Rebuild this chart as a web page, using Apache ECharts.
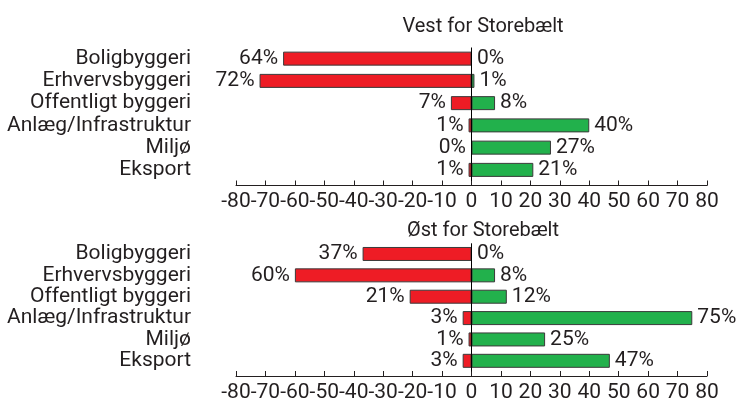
<!DOCTYPE html>
<html>
<head>
<meta charset="utf-8">
<script src="https://cdn.jsdelivr.net/npm/echarts@6/dist/echarts.min.js"></script>
<style>
  html, body { margin: 0; padding: 0; background: #fff; }
  #main { width: 738px; height: 403px; }
</style>
</head>
<body>
<div id="main"></div>
<script>
// categories, top to bottom
var categories = ['Boligbyggeri', 'Erhvervsbyggeri', 'Offentligt byggeri', 'Anlæg/Infrastruktur', 'Miljø', 'Eksport'];

// Vest for Storebælt: share negative (red) / positive (green), in %
var vestNeg = [64, 72, 7, 1, 0, 1];
var vestPos = [0, 1, 8, 40, 27, 21];

// Øst for Storebælt
var oestNeg = [37, 60, 21, 3, 1, 3];
var oestPos = [0, 8, 12, 75, 25, 47];

var panelTitles = ['Vest for Storebælt', 'Øst for Storebælt'];
var axisMin = -80, axisMax = 80, axisStep = 10;

var FONT = 'Roboto';
var TXT = '#231F20';
var RED = '#EE1C25';
var GREEN = '#22B14C';
var EDGE = '#3a3a3a';

var chart = echarts.init(document.getElementById('main'));

var gridTops = [47.5, 243.3];
var titleTops = [12, 216];

function pctLabel(p) {
    return Math.abs(p.value) + '%';
}

var grids = [], xAxes = [], yAxes = [], series = [], titles = [];
var negs = [vestNeg, oestNeg], poss = [vestPos, oestPos];

for (var i = 0; i < 2; i++) {
    titles.push({
        text: panelTitles[i],
        left: 478,
        top: titleTops[i],
        textAlign: 'center',
        textStyle: { fontFamily: FONT, fontSize: 20, fontWeight: 'normal', color: TXT }
    });
    grids.push({ left: 236, right: 31, top: gridTops[i], height: 133.5 });
    xAxes.push({
        type: 'value',
        gridIndex: i,
        min: axisMin,
        max: axisMax,
        interval: axisStep,
        offset: 4.5,
        axisLine: { show: true, onZero: false, lineStyle: { color: '#231F20', width: 1 } },
        axisTick: { show: true, inside: true, length: 5, lineStyle: { color: '#231F20' } },
        splitLine: { show: false },
        axisLabel: { fontFamily: FONT, fontSize: 21, color: TXT, margin: 6 }
    });
    yAxes.push({
        type: 'category',
        gridIndex: i,
        inverse: true,
        data: categories,
        axisLine: { show: false },
        axisTick: { show: false },
        axisLabel: { interval: 0, fontFamily: FONT, fontSize: 21, color: TXT, margin: 45 }
    });
    series.push({
        type: 'bar',
        xAxisIndex: i,
        yAxisIndex: i,
        barWidth: 14,
        barGap: '-100%',
        data: negs[i].map(function (v) { return -v; }),
        itemStyle: { color: RED, borderColor: EDGE, borderWidth: 1 },
        label: { show: true, position: 'left', distance: 5, formatter: pctLabel,
                 fontFamily: FONT, fontSize: 21, color: TXT },
        silent: true
    });
    series.push({
        type: 'bar',
        xAxisIndex: i,
        yAxisIndex: i,
        barWidth: 14,
        barGap: '-100%',
        data: poss[i],
        itemStyle: { color: GREEN, borderColor: EDGE, borderWidth: 1 },
        label: { show: true, position: 'right', distance: 5, formatter: pctLabel,
                 fontFamily: FONT, fontSize: 21, color: TXT },
        markLine: {
            silent: true,
            symbol: 'none',
            label: { show: false },
            lineStyle: { color: '#000', width: 1, type: 'solid' },
            data: [{ xAxis: 0 }]
        },
        silent: true
    });
}

chart.setOption({
    animation: false,
    backgroundColor: '#fff',
    title: titles,
    grid: grids,
    xAxis: xAxes,
    yAxis: yAxes,
    series: series
});
</script>
</body>
</html>
